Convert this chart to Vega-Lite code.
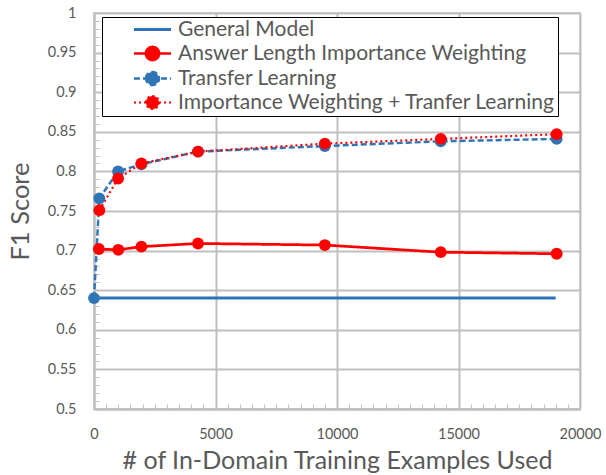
{
  "$schema": "https://vega.github.io/schema/vega-lite/v6.json",
  "width": 486,
  "height": 396,
  "autosize": "none",
  "padding": {"left": 94, "top": 13, "right": 26, "bottom": 66},
  "background": "white",
  "config": {
    "font": "Lato",
    "view": {"stroke": "#d0d0d0", "strokeWidth": 2}
  },
  "data": {
    "values": [
      {"series": "General Model", "x": 0, "f1": 0.64},
      {"series": "General Model", "x": 19000, "f1": 0.64},
      {"series": "Answer Length Importance Weighting", "x": 200, "f1": 0.702},
      {"series": "Answer Length Importance Weighting", "x": 1000, "f1": 0.701},
      {"series": "Answer Length Importance Weighting", "x": 1950, "f1": 0.705},
      {"series": "Answer Length Importance Weighting", "x": 4280, "f1": 0.709},
      {"series": "Answer Length Importance Weighting", "x": 9500, "f1": 0.707},
      {"series": "Answer Length Importance Weighting", "x": 14270, "f1": 0.698},
      {"series": "Answer Length Importance Weighting", "x": 19040, "f1": 0.696},
      {"series": "Transfer Learning", "x": 0, "f1": 0.64},
      {"series": "Transfer Learning", "x": 220, "f1": 0.766},
      {"series": "Transfer Learning", "x": 990, "f1": 0.8},
      {"series": "Transfer Learning", "x": 1950, "f1": 0.809},
      {"series": "Transfer Learning", "x": 4280, "f1": 0.825},
      {"series": "Transfer Learning", "x": 9500, "f1": 0.832},
      {"series": "Transfer Learning", "x": 14270, "f1": 0.838},
      {"series": "Transfer Learning", "x": 19040, "f1": 0.841},
      {"series": "Importance Weighting + Tranfer Learning", "x": 220, "f1": 0.751},
      {"series": "Importance Weighting + Tranfer Learning", "x": 990, "f1": 0.791},
      {"series": "Importance Weighting + Tranfer Learning", "x": 1950, "f1": 0.81},
      {"series": "Importance Weighting + Tranfer Learning", "x": 4280, "f1": 0.825},
      {"series": "Importance Weighting + Tranfer Learning", "x": 9500, "f1": 0.835},
      {"series": "Importance Weighting + Tranfer Learning", "x": 14270, "f1": 0.841},
      {"series": "Importance Weighting + Tranfer Learning", "x": 19040, "f1": 0.847}
    ]
  },
  "encoding": {
    "x": {
      "field": "x", "type": "quantitative",
      "scale": {"domain": [0, 20000], "nice": false},
      "title": "# of In-Domain Training Examples Used",
      "axis": {
        "values": [0,500,1000,1500,2000,2500,3000,3500,4000,4500,5000,5500,6000,6500,7000,7500,8000,8500,9000,9500,10000,10500,11000,11500,12000,12500,13000,13500,14000,14500,15000,15500,16000,16500,17000,17500,18000,18500,19000,19500,20000],
        "format": "d",
        "labelExpr": "datum.value % 5000 === 0 ? datum.label : ''",
        "grid": true,
        "gridColor": "#bfbfbf",
        "gridWidth": 2,
        "gridOpacity": {"condition": {"test": "datum.value % 5000 === 0", "value": 1}, "value": 0},
        "domainColor": "#bfbfbf",
        "domainWidth": 2,
        "tickColor": "#bfbfbf",
        "tickSize": -5,
        "labelPadding": 23,
        "labelFontSize": 14.5,
        "labelColor": "#595959",
        "labelFlush": false,
        "titleFontSize": 25,
        "titleFontWeight": "normal",
        "titleColor": "#595959",
        "titlePadding": 8
      }
    },
    "y": {
      "field": "f1", "type": "quantitative",
      "scale": {"domain": [0.5, 1], "nice": false, "zero": false},
      "title": "F1 Score",
      "axis": {
        "values": [0.5,0.51,0.52,0.53,0.54,0.55,0.56,0.57,0.58,0.59,0.6,0.61,0.62,0.63,0.64,0.65,0.66,0.67,0.68,0.69,0.7,0.71,0.72,0.73,0.74,0.75,0.76,0.77,0.78,0.79,0.8,0.81,0.82,0.83,0.84,0.85,0.86,0.87,0.88,0.89,0.9,0.91,0.92,0.93,0.94,0.95,0.96,0.97,0.98,0.99,1],
        "format": "~g",
        "labelExpr": "abs(datum.value*20 - round(datum.value*20)) < 0.001 ? datum.label : ''",
        "grid": true,
        "gridColor": "#bfbfbf",
        "gridWidth": 2,
        "gridOpacity": {"condition": {"test": "abs(datum.value*20 - round(datum.value*20)) < 0.001", "value": 1}, "value": 0},
        "domainColor": "#bfbfbf",
        "domainWidth": 2,
        "tickColor": "#bfbfbf",
        "tickSize": -5,
        "labelPadding": 23,
        "labelFontSize": 14.5,
        "labelColor": "#595959",
        "labelFlush": false,
        "titleFontSize": 25.5,
        "titleFontWeight": "normal",
        "titleColor": "#595959",
        "titlePadding": 14
      }
    },
    "color": {
      "field": "series", "type": "nominal",
      "scale": {
        "domain": ["General Model", "Answer Length Importance Weighting", "Transfer Learning", "Importance Weighting + Tranfer Learning"],
        "range": ["#2E75B6", "#FF0000", "#2E75B6", "#FF0000"]
      },
      "legend": {
        "title": null,
        "orient": "none",
        "legendX": 8,
        "legendY": 4,
        "strokeColor": "black",
        "fillColor": "white",
        "padding": 2,
        "symbolType": "M-2.5,0L2.5,0M-0.88,0A0.88,0.88 0 1,1 0.88,0A0.88,0.88 0 1,1 -0.88,0Z",
        "symbolSize": 219,
        "symbolStrokeWidth": 2.5,
        "symbolOffset": 38,
        "labelFontSize": 21,
        "labelColor": "#595959",
        "labelLimit": 500,
        "labelOffset": 15,
        "rowPadding": 1,
        "encode": {
          "symbols": {
            "update": {
              "shape": {"signal": "datum.value === 'General Model' ? 'M-2.5,0L2.5,0' : 'M-2.5,0L2.5,0M-0.88,0A0.88,0.88 0 1,1 0.88,0A0.88,0.88 0 1,1 -0.88,0Z'"}
            }
          }
        }
      }
    }
  },
  "layer": [
    {
      "mark": {"type": "line"},
      "encoding": {
        "strokeDash": {
          "field": "series", "type": "nominal",
          "scale": {
            "domain": ["General Model", "Answer Length Importance Weighting", "Transfer Learning", "Importance Weighting + Tranfer Learning"],
            "range": [[1, 0], [1, 0], [6, 3], [2, 3]]
          },
          "legend": {"title": null}
        },
        "strokeWidth": {
          "field": "series", "type": "nominal",
          "scale": {
            "domain": ["General Model", "Answer Length Importance Weighting", "Transfer Learning", "Importance Weighting + Tranfer Learning"],
            "range": [3, 2.2, 2.5, 2.5]
          },
          "legend": null
        },
        "order": {"field": "x"}
      }
    },
    {
      "transform": [{"filter": "datum.series !== 'General Model'"}],
      "mark": {"type": "circle", "size": 140, "opacity": 1}
    }
  ]
}
